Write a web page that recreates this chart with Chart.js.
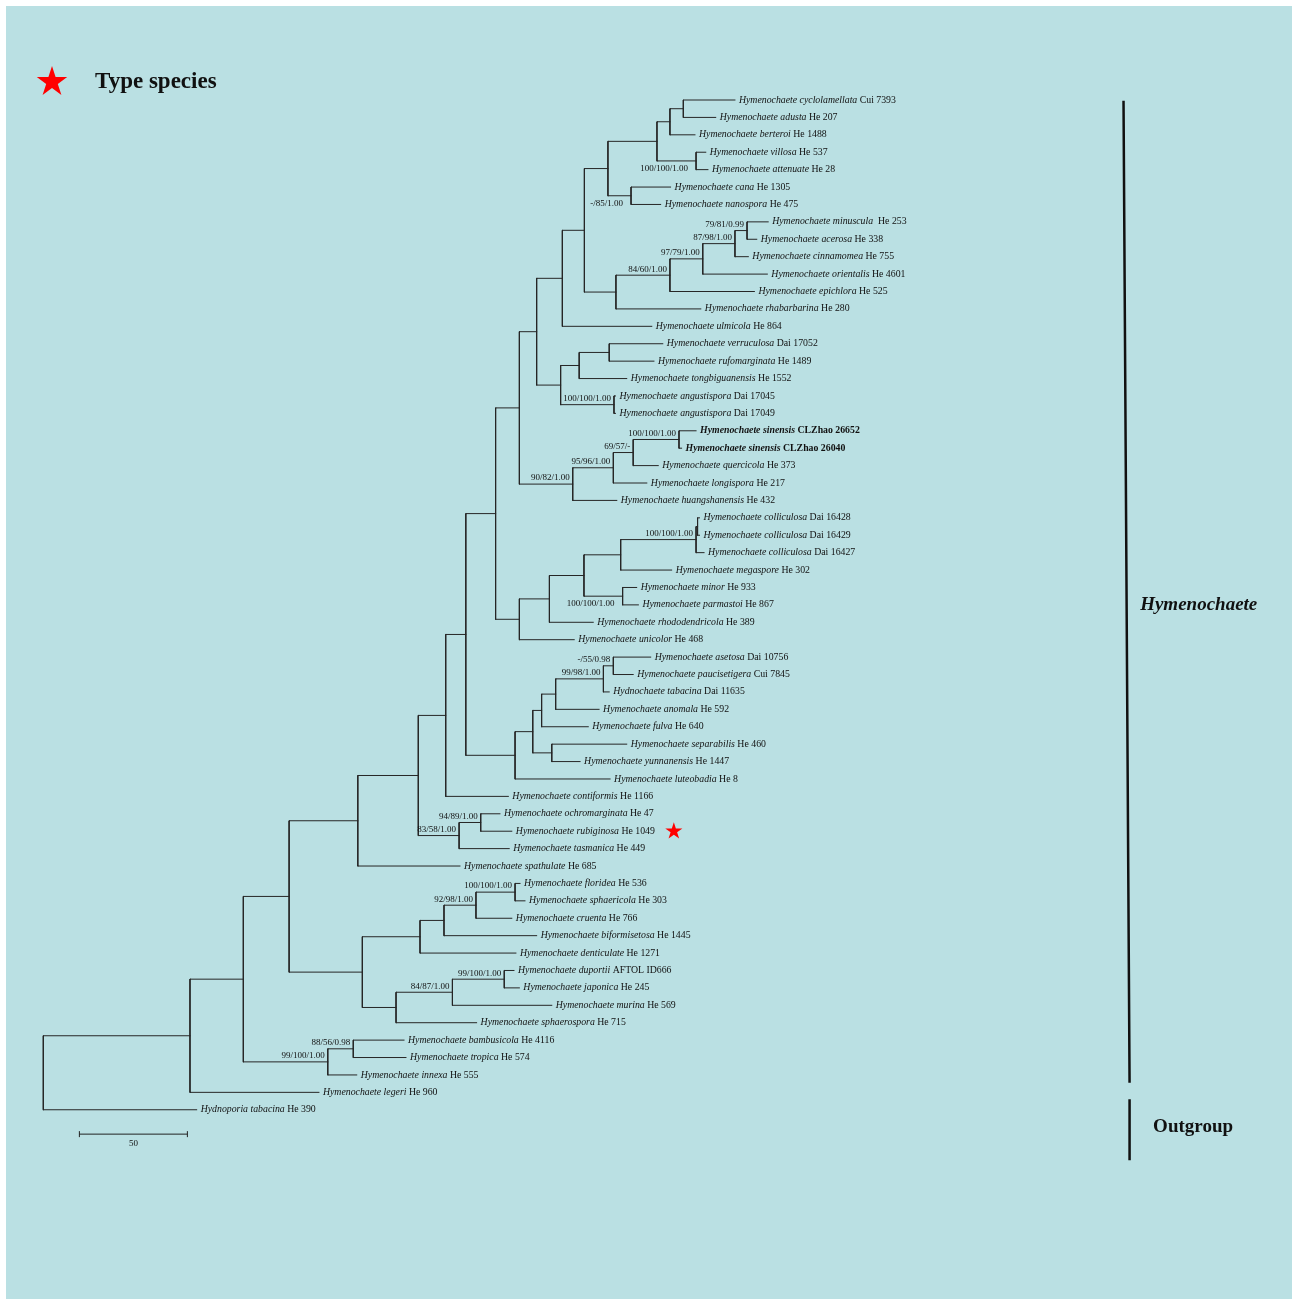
<!DOCTYPE html>
<html>
<head>
<meta charset="utf-8">
<script src="https://cdn.jsdelivr.net/npm/chart.js@4.4.1/dist/chart.umd.min.js"></script>
<style>
  html, body { margin: 0; padding: 0; background: #fff; }
  canvas { display: block; }
</style>
</head>
<body>
<canvas id="tree" width="1292" height="1299"></canvas>
<script>
// leaves, top to bottom
const taxa = [
  'Hymenochaete cyclolamellata', 'Hymenochaete adusta', 'Hymenochaete berteroi', 'Hymenochaete villosa',
  'Hymenochaete attenuate', 'Hymenochaete cana', 'Hymenochaete nanospora', 'Hymenochaete minuscula',
  'Hymenochaete acerosa', 'Hymenochaete cinnamomea', 'Hymenochaete orientalis', 'Hymenochaete epichlora',
  'Hymenochaete rhabarbarina', 'Hymenochaete ulmicola', 'Hymenochaete verruculosa', 'Hymenochaete rufomarginata',
  'Hymenochaete tongbiguanensis', 'Hymenochaete angustispora', 'Hymenochaete angustispora', 'Hymenochaete sinensis',
  'Hymenochaete sinensis', 'Hymenochaete quercicola', 'Hymenochaete longispora', 'Hymenochaete huangshanensis',
  'Hymenochaete colliculosa', 'Hymenochaete colliculosa', 'Hymenochaete colliculosa', 'Hymenochaete megaspore',
  'Hymenochaete minor', 'Hymenochaete parmastoi', 'Hymenochaete rhododendricola', 'Hymenochaete unicolor',
  'Hymenochaete asetosa', 'Hymenochaete paucisetigera', 'Hydnochaete tabacina', 'Hymenochaete anomala',
  'Hymenochaete fulva', 'Hymenochaete separabilis', 'Hymenochaete yunnanensis', 'Hymenochaete luteobadia',
  'Hymenochaete contiformis', 'Hymenochaete ochromarginata', 'Hymenochaete rubiginosa', 'Hymenochaete tasmanica',
  'Hymenochaete spathulate', 'Hymenochaete floridea', 'Hymenochaete sphaericola', 'Hymenochaete cruenta',
  'Hymenochaete biformisetosa', 'Hymenochaete denticulate', 'Hymenochaete duportii', 'Hymenochaete japonica',
  'Hymenochaete murina', 'Hymenochaete sphaerospora', 'Hymenochaete bambusicola', 'Hymenochaete tropica',
  'Hymenochaete innexa', 'Hymenochaete legeri', 'Hydnoporia tabacina'
];
const vouchers = [
  'Cui 7393', 'He 207', 'He 1488', 'He 537', 'He 28', 'He 1305', 'He 475', ' He 253', 'He 338', 'He 755',
  'He 4601', 'He 525', 'He 280', 'He 864', 'Dai 17052', 'He 1489', 'He 1552', 'Dai 17045', 'Dai 17049',
  'CLZhao 26652', 'CLZhao 26040', 'He 373', 'He 217', 'He 432', 'Dai 16428', 'Dai 16429', 'Dai 16427',
  'He 302', 'He 933', 'He 867', 'He 389', 'He 468', 'Dai 10756', 'Cui 7845', 'Dai 11635', 'He 592',
  'He 640', 'He 460', 'He 1447', 'He 8', 'He 1166', 'He 47', 'He 1049', 'He 449', 'He 685', 'He 536',
  'He 303', 'He 766', 'He 1445', 'He 1271', 'AFTOL ID666', 'He 245', 'He 569', 'He 715', 'He 4116',
  'He 574', 'He 555', 'He 960', 'He 390'
];
// distance of each tip from the root (scale bar units)
const tipDepth = [
  320.2, 311.3, 301.7, 306.7, 307.7, 290.4, 285.8, 335.6, 330.3, 326.4,
  335.2, 329.2, 304.4, 281.7, 286.8, 282.7, 270.1, 264.9, 264.9, 302.2,
  295.5, 284.7, 279.4, 265.5, 303.8, 303.8, 305.9, 290.9, 274.7, 275.5,
  254.6, 245.8, 281.2, 273.1, 262.0, 257.3, 252.3, 270.1, 248.5, 262.4,
  215.3, 211.4, 216.9, 215.7, 192.9, 220.7, 223.0, 216.9, 228.4, 218.8,
  217.9, 220.4, 235.4, 200.6, 167.0, 167.9, 145.1, 127.6, 71.0
];
// internal nodes: [id, children (leaf index or node id), depth]
const clades = [
  ['A', [0, 1], 296.3], ['B', ['A', 2], 290.1], ['C', [3, 4], 302.2], ['E', ['B', 'C'], 284.1],
  ['F', [5, 6], 272.1], ['D', ['E', 'F'], 261.4], ['G', [7, 8], 325.8], ['H', ['G', 9], 320.2],
  ['I', ['H', 10], 305.3], ['J', ['I', 11], 290.1], ['K', ['J', 12], 265.1], ['L', ['D', 'K'], 250.5],
  ['M', ['L', 13], 240.3], ['N', [14, 15], 262.0], ['O', ['N', 16], 248.1], ['P', [17, 18], 264.2],
  ['Q', ['O', 'P'], 239.5], ['R', ['M', 'Q'], 228.4], ['S', [19, 20], 294.3], ['T', ['S', 21], 273.1],
  ['U', ['T', 22], 263.9], ['V', ['U', 23], 245.1], ['W', ['R', 'V'], 220.4], ['X1', [24, 25], 302.9],
  ['X2', ['X1', 26], 302.2], ['Y', ['X2', 27], 267.3], ['Z', [28, 29], 268.2], ['AA', ['Y', 'Z'], 250.3],
  ['AB', ['AA', 30], 234.3], ['AC', ['AB', 31], 220.4], ['AD', ['W', 'AC'], 209.4],
  ['BA', [32, 33], 263.9], ['BB', ['BA', 34], 259.3], ['BC', ['BB', 35], 237.2], ['BD', ['BC', 36], 230.7],
  ['BE', [37, 38], 235.4], ['BF', ['BD', 'BE'], 226.6], ['BG', ['BF', 39], 218.4], ['BH', ['AD', 'BG'], 195.6],
  ['BI', ['BH', 40], 186.3], ['BJ', [41, 42], 202.5], ['BK', ['BJ', 43], 192.5], ['BL', ['BI', 'BK'], 173.6],
  ['BM', ['BL', 44], 145.6], ['CA', [45, 46], 218.4], ['CB', ['CA', 47], 200.3], ['CC', ['CB', 48], 185.5],
  ['CD', ['CC', 49], 174.4], ['CE', [50, 51], 213.4], ['CF', ['CE', 52], 189.4], ['CG', ['CF', 53], 163.3],
  ['CH', ['CD', 'CG'], 147.7], ['CI', ['BM', 'CH'], 113.8], ['DA', [54, 55], 143.5], ['DB', ['DA', 56], 131.7],
  ['DC', ['CI', 'DB'], 92.6], ['DD', ['DC', 57], 67.9], ['root', ['DD', 58], 0]
];
// ML bootstrap / MP bootstrap / BPP
const supportNodes = ['C', 'F', 'G', 'H', 'I', 'J', 'P', 'S', 'T', 'U', 'V', 'X2', 'Z',
  'BA', 'BB', 'BJ', 'BK', 'CA', 'CB', 'CE', 'CF', 'DA', 'DB'];
const supportText = ['100/100/1.00', '-/85/1.00', '79/81/0.99', '87/98/1.00', '97/79/1.00', '84/60/1.00',
  '100/100/1.00', '100/100/1.00', '69/57/-', '95/96/1.00', '90/82/1.00', '100/100/1.00', '100/100/1.00',
  '-/55/0.98', '99/98/1.00', '94/89/1.00', '83/58/1.00', '100/100/1.00', '92/98/1.00', '99/100/1.00',
  '84/87/1.00', '88/56/0.98', '99/100/1.00'];
const newSpecies = ['Hymenochaete sinensis'];
const typeSpecies = [42];
const scaleBar = 50;

const byId = {};
clades.forEach(c => { byId[c[0]] = { kids: c[1], depth: c[2] }; });

function nodeY(k) {
  if (typeof k === 'number') return k;
  const n = byId[k];
  if (n.y === undefined) {
    const ys = n.kids.map(nodeY);
    n.y = (Math.min(...ys) + Math.max(...ys)) / 2;
  }
  return n.y;
}
function nodeX(k) {
  return typeof k === 'number' ? tipDepth[k] : byId[k].depth;
}

// branch segments, broken by null points
const segs = [];
clades.forEach(([id, kids, depth]) => {
  const ys = kids.map(nodeY);
  segs.push({ x: depth, y: Math.min(...ys) }, { x: depth, y: Math.max(...ys) }, { x: depth, y: null });
  kids.forEach(k => {
    segs.push({ x: depth, y: nodeY(k) }, { x: nodeX(k), y: nodeY(k) }, { x: depth, y: null });
  });
});

const SERIF = '"Liberation Serif", "Times New Roman", serif';

function star(ctx, cx, cy, r) {
  ctx.save();
  ctx.beginPath();
  for (let i = 0; i < 10; i++) {
    const rad = i % 2 === 0 ? r : r * 0.382;
    const a = -Math.PI / 2 + i * Math.PI / 5;
    ctx.lineTo(cx + rad * Math.cos(a), cy + rad * Math.sin(a));
  }
  ctx.closePath();
  ctx.fillStyle = '#ff0000';
  ctx.fill();
  ctx.restore();
}

const treeText = {
  id: 'treeText',
  beforeDraw(chart) {
    const ctx = chart.ctx;
    ctx.save();
    ctx.fillStyle = '#ffffff';
    ctx.fillRect(0, 0, chart.width, chart.height);
    ctx.fillStyle = '#bae0e3';
    ctx.fillRect(6, 6, chart.width - 6, chart.height - 6);
    ctx.restore();
  },
  afterDatasetsDraw(chart) {
    const ctx = chart.ctx;
    const xs = chart.scales.x, ys = chart.scales.y;
    ctx.save();
    ctx.fillStyle = '#111';
    ctx.textBaseline = 'middle';

    // tip labels
    taxa.forEach((name, i) => {
      const bold = newSpecies.includes(name) ? 'bold ' : '';
      let x = xs.getPixelForValue(tipDepth[i]) + 4;
      const y = ys.getPixelForValue(i);
      ctx.textAlign = 'left';
      ctx.font = bold + 'italic 9.8px ' + SERIF;
      ctx.fillText(name, x, y);
      x += ctx.measureText(name + ' ').width;
      ctx.font = bold + '9.8px ' + SERIF;
      ctx.fillText(vouchers[i], x, y);
      x += ctx.measureText(vouchers[i]).width;
      if (typeSpecies.includes(i)) star(ctx, x + 19, y, 9);
    });

    // support values
    const below = ['C', 'F', 'Z'];
    ctx.font = '9px ' + SERIF;
    ctx.textAlign = 'right';
    supportNodes.forEach((id, i) => {
      const n = byId[id];
      const px = xs.getPixelForValue(n.depth);
      if (below.includes(id)) {
        const yLow = ys.getPixelForValue(Math.max(...n.kids.map(nodeY)));
        ctx.fillText(supportText[i], px - 8, yLow - 1);
      } else {
        ctx.fillText(supportText[i], px - 3, ys.getPixelForValue(nodeY(id)) - 6);
      }
    });

    // scale bar
    const sbY = ys.getPixelForValue(59.4);
    const sb0 = xs.getPixelForValue(16.7), sb1 = xs.getPixelForValue(16.7 + scaleBar);
    ctx.strokeStyle = '#222';
    ctx.lineWidth = 1;
    ctx.beginPath();
    ctx.moveTo(sb0, sbY); ctx.lineTo(sb1, sbY);
    ctx.moveTo(sb0, sbY - 3); ctx.lineTo(sb0, sbY + 3);
    ctx.moveTo(sb1, sbY - 3); ctx.lineTo(sb1, sbY + 3);
    ctx.stroke();
    ctx.textAlign = 'center';
    ctx.font = '9px ' + SERIF;
    ctx.fillText(String(scaleBar), (sb0 + sb1) / 2, sbY + 10);

    // clade bars
    ctx.strokeStyle = '#111';
    ctx.lineWidth = 2.5;
    ctx.beginPath();
    ctx.moveTo(xs.getPixelForValue(500.1), ys.getPixelForValue(0.04));
    ctx.lineTo(xs.getPixelForValue(502.9), ys.getPixelForValue(56.45));
    ctx.moveTo(xs.getPixelForValue(502.9), ys.getPixelForValue(57.4));
    ctx.lineTo(xs.getPixelForValue(502.9), ys.getPixelForValue(60.9));
    ctx.stroke();
    ctx.textAlign = 'left';
    ctx.font = 'bold italic 19px ' + SERIF;
    ctx.fillText('Hymenochaete', xs.getPixelForValue(507.8), ys.getPixelForValue(29));
    ctx.font = 'bold 19px ' + SERIF;
    ctx.fillText('Outgroup', xs.getPixelForValue(513.8), ys.getPixelForValue(59.0));

    // legend
    star(ctx, 52, 82, 16);
    ctx.font = 'bold 23px ' + SERIF;
    ctx.fillText('Type species', 95, 82);
    ctx.restore();
  }
};

new Chart(document.getElementById('tree'), {
  type: 'scatter',
  data: {
    datasets: [{
      data: segs,
      showLine: true,
      spanGaps: false,
      borderColor: '#262626',
      borderWidth: 1,
      borderCapStyle: 'square',
      pointRadius: 0,
      pointHoverRadius: 0
    }]
  },
  options: {
    responsive: false,
    devicePixelRatio: 1,
    animation: false,
    events: [],
    layout: { padding: 0 },
    plugins: { legend: { display: false }, tooltip: { enabled: false } },
    scales: {
      x: { type: 'linear', display: false, min: -20.05, max: 578.1 },
      y: { type: 'linear', display: false, reverse: true, min: -5.744, max: 68.87 }
    }
  },
  plugins: [treeText]
});
</script>
</body>
</html>
